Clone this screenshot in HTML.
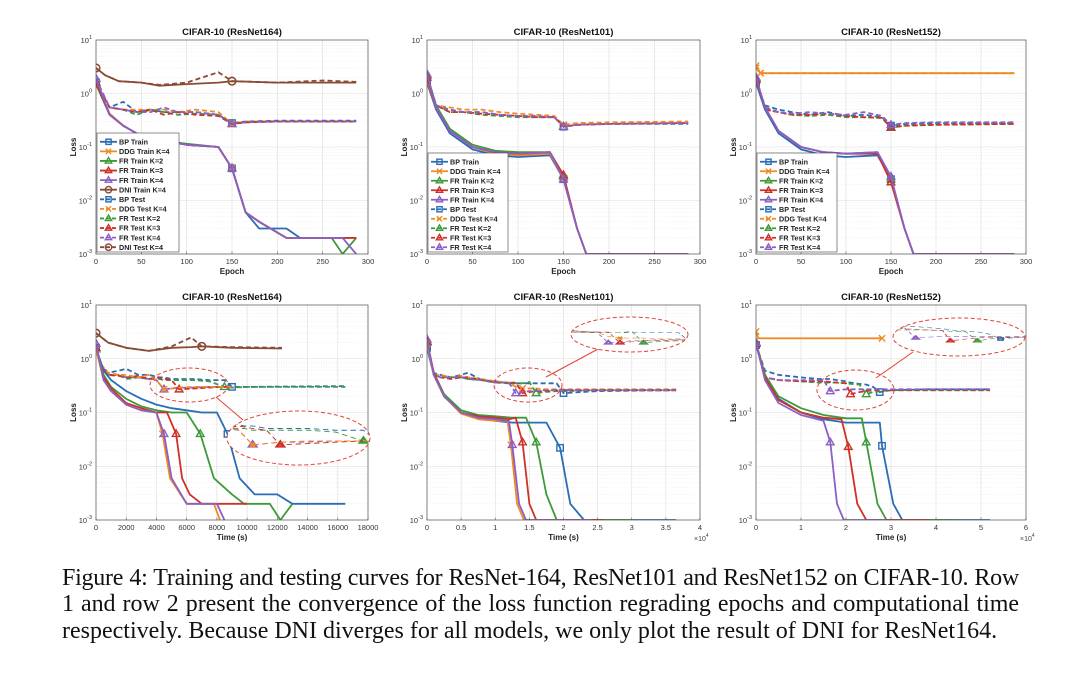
<!DOCTYPE html>
<html><head><meta charset="utf-8"><style>
html,body{margin:0;padding:0;background:#fff;}
body{width:1080px;height:674px;position:relative;overflow:hidden;font-family:"Liberation Sans",sans-serif;}
.cap{position:absolute;left:62px;width:957px;font-family:"Liberation Serif",serif;font-size:24px;line-height:26px;text-align:justify;text-align-last:justify;white-space:nowrap;color:#111;}
</style></head><body>
<svg id="fig" width="1080" height="674" xmlns="http://www.w3.org/2000/svg" style="position:absolute;left:0;top:0"></svg>
<div class="cap" style="top:565px;letter-spacing:-0.25px;word-spacing:-0.5px">Figure 4: Training and testing curves for ResNet-164, ResNet101 and ResNet152 on CIFAR-10. Row</div>
<div class="cap" style="top:591px;letter-spacing:-0.05px">1 and row 2 present the convergence of the loss function regrading epochs and computational time</div>
<div class="cap" style="top:618px;text-align-last:left;width:auto">respectively. Because DNI diverges for all models, we only plot the result of DNI for ResNet164.</div>
<script>
// ---------- DATA ----------
const ep1Train = [0,15,30,50,75,100,135,150,165,180,210,225,260,272,287];
const p1BPtr  = [1.6,0.42,0.25,0.16,0.13,0.11,0.1,0.04,0.006,0.003,0.003,0.002,0.002,0.002,0.002];
const p1DDGtr = [1.5,0.42,0.25,0.16,0.13,0.11,0.1,0.04,0.006,0.004,0.002,0.002,0.002,0.002,0.002];
const p1FR2tr = [1.5,0.4,0.25,0.16,0.13,0.115,0.1,0.04,0.006,0.004,0.002,0.002,0.002,0.001,0.002];
const p1FR3tr = [1.6,0.4,0.25,0.16,0.13,0.11,0.1,0.04,0.006,0.004,0.002,0.002,0.002,0.002,0.002];
const p1FR4tr = [1.9,0.4,0.25,0.16,0.13,0.11,0.1,0.04,0.006,0.004,0.002,0.002,0.002,0.002,0.001];
const ep1Test = [0,15,30,45,60,75,90,110,135,150,165,200,287];
const p1BPte  = [1.6,0.55,0.7,0.45,0.5,0.45,0.45,0.45,0.4,0.28,0.3,0.31,0.31];
const p1DDGte = [1.5,0.55,0.5,0.5,0.5,0.5,0.45,0.5,0.45,0.27,0.3,0.3,0.3];
const p1FR2te = [1.5,0.55,0.5,0.4,0.5,0.45,0.4,0.42,0.4,0.27,0.29,0.3,0.3];
const p1FR3te = [1.6,0.55,0.5,0.45,0.5,0.4,0.45,0.4,0.38,0.27,0.29,0.3,0.3];
const p1FR4te = [1.9,0.55,0.5,0.45,0.45,0.55,0.45,0.45,0.4,0.27,0.29,0.3,0.3];
const ep1DNI  = [0,10,25,50,70,100,135,150,200,250,287];
const p1DNItr = [3,2.2,1.7,1.6,1.4,1.5,1.6,1.7,1.6,1.6,1.6];
const p1DNIte = [3,2.2,1.7,1.6,1.45,1.6,2.5,1.7,1.6,1.75,1.65];

const ep2Train = [0,10,25,50,75,100,135,150,165,175,287];
const p2BPtr  = [1.6,0.5,0.18,0.09,0.07,0.065,0.07,0.025,0.003,0.001,0.001];
const p2DDGtr = [1.8,0.55,0.2,0.1,0.075,0.07,0.075,0.025,0.003,0.001,0.001];
const p2FR2tr = [2.2,0.6,0.22,0.11,0.085,0.08,0.08,0.028,0.003,0.001,0.001];
const p2FR3tr = [2.0,0.55,0.2,0.1,0.08,0.075,0.08,0.03,0.003,0.001,0.001];
const p2FR4tr = [2.3,0.55,0.2,0.1,0.08,0.075,0.08,0.025,0.003,0.001,0.001];
const ep2Test = [0,10,25,40,60,80,100,120,140,150,165,200,287];
const p2BPte  = [1.6,0.6,0.5,0.45,0.45,0.4,0.38,0.38,0.36,0.24,0.26,0.27,0.27];
const p2DDGte = [1.8,0.6,0.55,0.5,0.5,0.45,0.42,0.4,0.38,0.26,0.28,0.29,0.3];
const p2FR2te = [2.2,0.6,0.45,0.45,0.4,0.38,0.36,0.36,0.36,0.24,0.26,0.27,0.28];
const p2FR3te = [2.0,0.6,0.45,0.45,0.42,0.4,0.38,0.36,0.36,0.24,0.26,0.27,0.28];
const p2FR4te = [2.3,0.6,0.5,0.45,0.45,0.4,0.38,0.38,0.36,0.24,0.26,0.27,0.28];

const ep3Train = [0,10,25,50,75,100,135,150,165,175,287];
const p3BPtr  = [1.6,0.5,0.18,0.09,0.07,0.065,0.07,0.025,0.003,0.001,0.001];
const p3FR2tr = [1.9,0.55,0.2,0.1,0.08,0.075,0.08,0.025,0.003,0.001,0.001];
const p3FR3tr = [1.8,0.55,0.2,0.1,0.08,0.075,0.075,0.022,0.003,0.001,0.001];
const p3FR4tr = [2.0,0.55,0.2,0.1,0.08,0.075,0.08,0.028,0.003,0.001,0.001];
const ep3DDG  = [0,5,287];
const p3DDGtr = [3.3,2.4,2.4];
const p3DDGte = [3.0,2.4,2.4];
const ep3Test = [0,10,25,40,60,80,100,120,140,150,165,200,287];
const p3BPte  = [1.6,0.6,0.5,0.45,0.4,0.45,0.38,0.4,0.36,0.25,0.27,0.28,0.28];
const p3FR2te = [1.9,0.5,0.45,0.4,0.38,0.4,0.36,0.36,0.35,0.23,0.25,0.26,0.27];
const p3FR3te = [1.8,0.5,0.45,0.4,0.4,0.42,0.38,0.36,0.35,0.23,0.25,0.26,0.27];
const p3FR4te = [2.0,0.55,0.45,0.42,0.45,0.42,0.4,0.45,0.38,0.26,0.28,0.29,0.29];

const t1BP = [0,500,1000,2000,3000,4000,5000,6000,7000,8000,8700,9500,10500,12000,13000,16500];
const b1BPtr = [1.6,0.6,0.4,0.25,0.18,0.14,0.12,0.11,0.1,0.1,0.04,0.006,0.003,0.003,0.002,0.002];
const t1FR4 = [0,500,1000,2000,3000,4000,4500,5000,6000,8000,8500];
const b1FR4tr = [1.9,0.4,0.25,0.14,0.11,0.1,0.04,0.006,0.002,0.002,0.001];
const t1DDG = [0,500,1000,2000,3000,4000,4400,4900,6000,7800,8200];
const b1DDGtr = [1.5,0.4,0.25,0.14,0.11,0.1,0.04,0.006,0.002,0.002,0.001];
const t1FR3 = [0,500,1000,2000,3000,4000,4700,5300,5700,6200,7000,10000];
const b1FR3tr = [1.6,0.45,0.28,0.15,0.12,0.1,0.1,0.04,0.006,0.003,0.002,0.002];
const t1FR2 = [0,500,1000,2000,3000,4000,5000,6000,6900,7800,9000,9800,11500,12200,13000];
const b1FR2tr = [1.5,0.5,0.3,0.18,0.13,0.11,0.1,0.1,0.04,0.006,0.003,0.002,0.002,0.001,0.002];
const t1te = [0,300,800,1500,2000,2800,3500,4200,4500,5000,5500,6500,7500,8500,9000,10000,16500];
const b1BPte = [1.6,0.8,0.55,0.6,0.65,0.5,0.5,0.45,0.45,0.42,0.42,0.42,0.4,0.4,0.3,0.3,0.31];
const b1FR2te = [1.5,0.8,0.5,0.5,0.42,0.45,0.42,0.42,0.4,0.4,0.4,0.4,0.38,0.3,0.29,0.3,0.3];
const t1teS = [0,300,800,1500,2000,2800,3500,4000,4500,5000,5500,6500,7500,8500,9000];
const b1FR4te = [1.9,0.8,0.5,0.5,0.45,0.45,0.42,0.4,0.27,0.28,0.29,0.29,0.3,0.3,0.3];
const b1FR3te = [1.6,0.8,0.5,0.48,0.45,0.48,0.42,0.45,0.42,0.4,0.27,0.28,0.29,0.3,0.3];
const b1DDGte = [1.5,0.8,0.55,0.5,0.5,0.45,0.5,0.4,0.27,0.28,0.29,0.3,0.3,0.3,0.3];
const t1DNI = [0,800,2000,3500,5000,6300,7000,9000,12300];
const b1DNItr = [3,2,1.6,1.4,1.6,1.65,1.7,1.6,1.55];
const b1DNIte = [3,2,1.6,1.4,1.7,2.5,1.7,1.65,1.6];

const t2BP = [0,1000,2500,5000,7500,10000,12500,15000,17500,19500,21000,23000,36500];
const b2BPtr = [1.6,0.5,0.2,0.1,0.08,0.07,0.065,0.065,0.065,0.022,0.002,0.001,0.001];
const t2FR2 = [0,1000,2500,5000,7500,10000,12500,14500,16000,17500,19000,30000];
const b2FR2tr = [2.0,0.55,0.22,0.11,0.09,0.085,0.08,0.08,0.028,0.003,0.001,0.001];
const t2FR3 = [0,1000,2500,5000,7500,10000,12000,13000,14000,15000,16000,26000];
const b2FR3tr = [2.1,0.55,0.2,0.1,0.085,0.08,0.075,0.08,0.028,0.002,0.001,0.001];
const t2FR4 = [0,1000,2500,5000,7500,10000,11500,12000,12500,13500,14500,24000];
const b2FR4tr = [2.3,0.5,0.2,0.1,0.08,0.075,0.07,0.07,0.025,0.002,0.001,0.001];
const t2DDG = [0,1000,2500,5000,7500,10000,11500,11800,12300,13200,14200,24000];
const b2DDGtr = [1.9,0.5,0.2,0.095,0.075,0.07,0.07,0.07,0.025,0.002,0.001,0.001];
const t2te = [0,1000,2000,3500,5000,6000,8000,10000,12000,13000,14000,15000,16000,17000,19000,20000,25000,36500];
const b2BPte = [1.6,0.55,0.5,0.45,0.5,0.55,0.4,0.38,0.35,0.35,0.35,0.35,0.35,0.35,0.35,0.23,0.25,0.26];
const b2FR2te = [2.0,0.5,0.45,0.45,0.45,0.42,0.4,0.36,0.35,0.35,0.35,0.37,0.23,0.24,0.25,0.25,0.26,0.26];
const b2FR3te = [2.1,0.5,0.45,0.42,0.45,0.45,0.4,0.36,0.36,0.36,0.23,0.24,0.25,0.25,0.26,0.26,0.26,0.26];
const b2FR4te = [2.3,0.5,0.45,0.45,0.45,0.42,0.4,0.36,0.36,0.23,0.24,0.25,0.25,0.26,0.26,0.26,0.26,0.26];
const b2DDGte = [1.9,0.5,0.5,0.45,0.48,0.45,0.42,0.38,0.36,0.3,0.28,0.28,0.28,0.27,0.27,0.27,0.27,0.27];

const t3BP = [0,2000,5000,10000,15000,20000,25000,27500,28000,30500,32500,52000];
const b3BPtr = [1.8,0.5,0.18,0.1,0.075,0.065,0.065,0.065,0.024,0.002,0.001,0.001];
const t3FR2 = [0,2000,5000,10000,15000,20000,23500,24500,27000,29000,45000];
const b3FR2tr = [2.0,0.5,0.2,0.12,0.09,0.078,0.078,0.028,0.002,0.001,0.001];
const t3FR3 = [0,2000,5000,10000,15000,19000,20500,22500,24500,38500];
const b3FR3tr = [1.9,0.45,0.17,0.1,0.08,0.075,0.023,0.002,0.001,0.001];
const t3FR4 = [0,2000,5000,10000,15000,16500,18000,19500,29000];
const b3FR4tr = [2.0,0.4,0.15,0.09,0.07,0.028,0.002,0.001,0.001];
const t3DDG = [0,500,28000];
const b3DDGtr = [3.2,2.4,2.4];
const t3te = [0,2000,5000,10000,14000,15000,16500,18000,20000,21000,23000,24500,26000,27500,30000,38000,52000];
const b3BPte = [1.8,0.6,0.5,0.45,0.42,0.42,0.42,0.4,0.38,0.36,0.34,0.33,0.3,0.24,0.26,0.27,0.27];
const b3FR2te = [2.0,0.45,0.4,0.38,0.36,0.36,0.36,0.36,0.35,0.34,0.33,0.22,0.24,0.25,0.26,0.26,0.26];
const b3FR3te = [1.9,0.45,0.4,0.38,0.38,0.38,0.37,0.36,0.35,0.22,0.24,0.25,0.26,0.26,0.26,0.26,0.26];
const b3FR4te = [2.0,0.45,0.4,0.4,0.4,0.4,0.25,0.26,0.27,0.27,0.27,0.27,0.27,0.27,0.27,0.27,0.27];

const topTicks = [0,50,100,150,200,250,300];
const b1Ticks = [0,2000,4000,6000,8000,10000,12000,14000,16000,18000];
const b2Ticks = [0,5000,10000,15000,20000,25000,30000,35000,40000];
const b2Labels = ["0","0.5","1","1.5","2","2.5","3","3.5","4"];
const b3Ticks = [0,10000,20000,30000,40000,50000,60000];
const b3Labels = ["0","1","2","3","4","5","6"];

// ---------- DRAW ----------
const C = {bp:"#2a6db5", ddg:"#f08a24", fr2:"#3d9b3a", fr3:"#cf3027", fr4:"#8b5fc6", dni:"#8a4b35"};
const NS = "http://www.w3.org/2000/svg";
const svg = document.getElementById('fig');
function el(tag, attrs, parent){ const e=document.createElementNS(NS,tag); for(const k in attrs) e.setAttribute(k,attrs[k]); (parent||svg).appendChild(e); return e; }

function S(col, dash, mk, xs, ys, mi, name){ return {col,dash,mk,xs,ys,mi,name}; }

const panels = [
 {name:"top-left", x0:96,y0:40,w:272,h:214,xmax:300,ticks:topTicks,labels:topTicks.map(String),title:"CIFAR-10 (ResNet164)",xlabel:"Epoch",
  series:[S(C.dni,"", "o",ep1DNI,p1DNItr,7,"dni-train"),S(C.dni,"5,3","o",ep1DNI,p1DNIte,7,"dni-test"),
   S(C.bp,"5,3","s",ep1Test,p1BPte,9,"bp-test"),S(C.ddg,"5,3","x",ep1Test,p1DDGte,9,"ddg-test"),S(C.fr2,"5,3","^",ep1Test,p1FR2te,9,"fr2-test"),S(C.fr3,"5,3","^",ep1Test,p1FR3te,9,"fr3-test"),S(C.fr4,"5,3","^",ep1Test,p1FR4te,9,"fr4-test"),
   S(C.bp,"","s",ep1Train,p1BPtr,7,"bp-train"),S(C.ddg,"","x",ep1Train,p1DDGtr,7,"ddg-train"),S(C.fr2,"","^",ep1Train,p1FR2tr,7,"fr2-train"),S(C.fr3,"","^",ep1Train,p1FR3tr,7,"fr3-train"),S(C.fr4,"","^",ep1Train,p1FR4tr,7,"fr4-train")],
  legend:{x:97,y:133,w:82,h:119,dni:true}},
 {name:"top-middle", x0:427,y0:40,w:273,h:214,xmax:300,ticks:topTicks,labels:topTicks.map(String),title:"CIFAR-10 (ResNet101)",xlabel:"Epoch",
  series:[S(C.bp,"5,3","s",ep2Test,p2BPte,9,"bp-test"),S(C.ddg,"5,3","x",ep2Test,p2DDGte,9,"ddg-test"),S(C.fr2,"5,3","^",ep2Test,p2FR2te,9,"fr2-test"),S(C.fr3,"5,3","^",ep2Test,p2FR3te,9,"fr3-test"),S(C.fr4,"5,3","^",ep2Test,p2FR4te,9,"fr4-test"),
   S(C.bp,"","s",ep2Train,p2BPtr,7,"bp-train"),S(C.ddg,"","x",ep2Train,p2DDGtr,7,"ddg-train"),S(C.fr2,"","^",ep2Train,p2FR2tr,7,"fr2-train"),S(C.fr3,"","^",ep2Train,p2FR3tr,7,"fr3-train"),S(C.fr4,"","^",ep2Train,p2FR4tr,7,"fr4-train")],
  legend:{x:428,y:153,w:80,h:99,dni:false}},
 {name:"top-right", x0:756,y0:40,w:270,h:214,xmax:300,ticks:topTicks,labels:topTicks.map(String),title:"CIFAR-10 (ResNet152)",xlabel:"Epoch",
  series:[S(C.ddg,"","x",ep3DDG,p3DDGtr,1,"ddg-train"),S(C.ddg,"5,3","x",ep3DDG,p3DDGte,1,"ddg-test"),
   S(C.bp,"5,3","s",ep3Test,p3BPte,9,"bp-test"),S(C.fr2,"5,3","^",ep3Test,p3FR2te,9,"fr2-test"),S(C.fr3,"5,3","^",ep3Test,p3FR3te,9,"fr3-test"),S(C.fr4,"5,3","^",ep3Test,p3FR4te,9,"fr4-test"),
   S(C.bp,"","s",ep3Train,p3BPtr,7,"bp-train"),S(C.fr2,"","^",ep3Train,p3FR2tr,7,"fr2-train"),S(C.fr3,"","^",ep3Train,p3FR3tr,7,"fr3-train"),S(C.fr4,"","^",ep3Train,p3FR4tr,7,"fr4-train")],
  legend:{x:757,y:153,w:80,h:99,dni:false}},
 {name:"bottom-left", x0:96,y0:305,w:272,h:215,xmax:18000,ticks:b1Ticks,labels:b1Ticks.map(String),title:"CIFAR-10 (ResNet164)",xlabel:"Time (s)",
  series:[S(C.dni,"","o",t1DNI,b1DNItr,6,"dni-train"),S(C.dni,"5,3","o",t1DNI,b1DNIte,6,"dni-test"),
   S(C.bp,"5,3","s",t1te,b1BPte,14,"bp-test"),S(C.fr2,"5,3","^",t1te,b1FR2te,13,"fr2-test"),S(C.fr4,"5,3","^",t1teS,b1FR4te,8,"fr4-test"),S(C.fr3,"5,3","^",t1teS,b1FR3te,10,"fr3-test"),S(C.ddg,"5,3","x",t1teS,b1DDGte,8,"ddg-test"),
   S(C.bp,"","s",t1BP,b1BPtr,10,"bp-train"),S(C.fr2,"","^",t1FR2,b1FR2tr,8,"fr2-train"),S(C.fr3,"","^",t1FR3,b1FR3tr,7,"fr3-train"),S(C.ddg,"","x",t1DDG,b1DDGtr,6,"ddg-train"),S(C.fr4,"","^",t1FR4,b1FR4tr,6,"fr4-train")],
  zoom:{src:[150,368,228,402],dst:[227,411,370,465],line:[216,397,243,420]}},
 {name:"bottom-middle", x0:427,y0:305,w:273,h:215,xmax:40000,ticks:b2Ticks,labels:b2Labels,title:"CIFAR-10 (ResNet101)",xlabel:"Time (s)",exp:true,
  series:[S(C.bp,"5,3","s",t2te,b2BPte,15,"bp-test"),S(C.ddg,"5,3","x",t2te,b2DDGte,10,"ddg-test"),S(C.fr2,"5,3","^",t2te,b2FR2te,12,"fr2-test"),S(C.fr3,"5,3","^",t2te,b2FR3te,10,"fr3-test"),S(C.fr4,"5,3","^",t2te,b2FR4te,9,"fr4-test"),
   S(C.bp,"","s",t2BP,b2BPtr,9,"bp-train"),S(C.fr2,"","^",t2FR2,b2FR2tr,8,"fr2-train"),S(C.fr3,"","^",t2FR3,b2FR3tr,8,"fr3-train"),S(C.ddg,"","x",t2DDG,b2DDGtr,8,"ddg-train"),S(C.fr4,"","^",t2FR4,b2FR4tr,8,"fr4-train")],
  zoom:{src:[494,368,562,402],dst:[571,317,688,352],line:[546,377,600,348]}},
 {name:"bottom-right", x0:756,y0:305,w:270,h:215,xmax:60000,ticks:b3Ticks,labels:b3Labels,title:"CIFAR-10 (ResNet152)",xlabel:"Time (s)",exp:true,
  series:[S(C.ddg,"","x",t3DDG,b3DDGtr,2,"ddg-train"),
   S(C.bp,"5,3","s",t3te,b3BPte,13,"bp-test"),S(C.fr2,"5,3","^",t3te,b3FR2te,11,"fr2-test"),S(C.fr3,"5,3","^",t3te,b3FR3te,9,"fr3-test"),S(C.fr4,"5,3","^",t3te,b3FR4te,6,"fr4-test"),
   S(C.bp,"","s",t3BP,b3BPtr,8,"bp-train"),S(C.fr2,"","^",t3FR2,b3FR2tr,7,"fr2-train"),S(C.fr3,"","^",t3FR3,b3FR3tr,6,"fr3-train"),S(C.fr4,"","^",t3FR4,b3FR4tr,5,"fr4-train")],
  zoom:{src:[817,370,894,410],dst:[893,318,1025,356],line:[876,378,913,352]}}
];

function marker(g, type, x, y, col, r){
  r = r||3.2;
  let m;
  if(type==="s") m=el('rect',{x:x-r,y:y-r,width:2*r,height:2*r,fill:"none",stroke:col,"stroke-width":1.4},g);
  else if(type==="o") m=el('circle',{cx:x,cy:y,r:r+0.6,fill:"none",stroke:col,"stroke-width":1.4},g);
  else if(type==="^") m=el('polygon',{points:`${x},${y-r-0.8} ${x-r-0.6},${y+r*0.8} ${x+r+0.6},${y+r*0.8}`,fill:"none",stroke:col,"stroke-width":1.4},g);
  else m=el('path',{d:`M${x-r} ${y-r}L${x+r} ${y+r}M${x-r} ${y+r}L${x+r} ${y-r}`,stroke:col,"stroke-width":1.4},g);
  
  
}

let pid=0;
function drawPanel(p){
  pid++;
  const g = el('g',{});
  
  
  const xs = v => p.x0 + v/p.xmax*p.w;
  const ys = v => p.y0 + (1 - Math.log10(v))/4*p.h;
  for(let d=-3; d<1; d++) for(let k=2;k<10;k++){
    const yy = ys(k*Math.pow(10,d));
    el('line',{x1:p.x0,x2:p.x0+p.w,y1:yy,y2:yy,stroke:"#e4e4e4","stroke-width":0.5,"stroke-dasharray":"1,1.5"},g);
  }
  for(let d=-3; d<=1; d++){ const yy=ys(Math.pow(10,d)); el('line',{x1:p.x0,x2:p.x0+p.w,y1:yy,y2:yy,stroke:"#dcdcdc","stroke-width":0.6},g); }
  p.ticks.forEach(t=>{ const xx=xs(t); el('line',{x1:xx,x2:xx,y1:p.y0,y2:p.y0+p.h,stroke:"#dcdcdc","stroke-width":0.6},g); });
  const cid='clip'+pid;
  const cp = el('clipPath',{id:cid},g); el('rect',{x:p.x0,y:p.y0-6,width:p.w,height:p.h+6},cp);
  const body = el('g',{"clip-path":`url(#${cid})`},g);
  function drawSeries(parent, sw, ms){
    p.series.forEach(s=>{
      const pts = s.xs.map((x,i)=>`${xs(x).toFixed(1)},${ys(s.ys[i]).toFixed(1)}`).join(' ');
      const pl = el('polyline',{points:pts,fill:"none",stroke:s.col,"stroke-width":sw,"stroke-linejoin":"round","stroke-dasharray":s.dash?(sw<1.5?"3,2":s.dash):"none"},parent);
      
      
      marker(parent, s.mk, xs(s.xs[0]), ys(s.ys[0]), s.col, ms);
      if(s.mi!=null && s.mi<s.xs.length) marker(parent, s.mk, xs(s.xs[s.mi]), ys(s.ys[s.mi]), s.col, ms);
    });
  }
  drawSeries(body, 1.8, 3.2);
  el('rect',{x:p.x0,y:p.y0,width:p.w,height:p.h,fill:"none",stroke:"#555","stroke-width":0.7},g);
  p.ticks.forEach((t,i)=>{
    const xx=xs(t);
    el('line',{x1:xx,x2:xx,y1:p.y0+p.h,y2:p.y0+p.h-2.5,stroke:"#555","stroke-width":0.6},g);
    const tx=el('text',{x:xx,y:p.y0+p.h+10,"font-size":7.5,"text-anchor":"middle",fill:"#333"},g);
    tx.textContent=p.labels[i];
    
    
  });
  for(let d=-3; d<=1; d++){
    const yy=ys(Math.pow(10,d));
    const tx=el('text',{x:p.x0-4,y:yy+3,"font-size":7.5,"text-anchor":"end",fill:"#333"},g);
    tx.innerHTML=`10<tspan dy="-4" font-size="5.5">${d}</tspan>`;
    
    
  }
  if(p.exp){
    const tx=el('text',{x:p.x0+p.w-6,y:p.y0+p.h+21,"font-size":7,fill:"#444"},g);
    tx.innerHTML=`×10<tspan dy="-4" font-size="5">4</tspan>`;
    
    
  }
  const tt=el('text',{x:p.x0+p.w/2,y:p.y0-5,"font-size":9.5,"font-weight":"bold","text-anchor":"middle",fill:"#111"},g);
  tt.textContent=p.title;
  
  
  const xl=el('text',{x:p.x0+p.w/2,y:p.y0+p.h+20,"font-size":8,"font-weight":"bold","text-anchor":"middle",fill:"#222"},g);
  xl.textContent=p.xlabel;
  
  
  const yl=el('text',{x:0,y:0,"font-size":8,"font-weight":"bold","text-anchor":"middle",fill:"#222",transform:`translate(${p.x0-20},${p.y0+p.h/2}) rotate(-90)`},g);
  yl.textContent="Loss";
  
  
  if(p.zoom){
    const z=p.zoom, s=z.src, d=z.dst;
    const se=el('ellipse',{cx:(s[0]+s[2])/2,cy:(s[1]+s[3])/2,rx:(s[2]-s[0])/2,ry:(s[3]-s[1])/2,fill:"none",stroke:"#e0443a","stroke-width":1,"stroke-dasharray":"4,2.5"},g);
    
    
    const ln=el('line',{x1:z.line[0],y1:z.line[1],x2:z.line[2],y2:z.line[3],stroke:"#e0443a","stroke-width":1},g);
    
    
    const icid='iclip'+pid;
    const icp=el('clipPath',{id:icid},g);
    el('ellipse',{cx:(d[0]+d[2])/2,cy:(d[1]+d[3])/2,rx:(d[2]-d[0])/2,ry:(d[3]-d[1])/2},icp);
    el('ellipse',{cx:(d[0]+d[2])/2,cy:(d[1]+d[3])/2,rx:(d[2]-d[0])/2,ry:(d[3]-d[1])/2,fill:"#fff",stroke:"none"},g);
    const ig=el('g',{"clip-path":`url(#${icid})`},g);
    
    
    const sx=(d[2]-d[0])/(s[2]-s[0]), sy=(d[3]-d[1])/(s[3]-s[1]);
    const inner=el('g',{transform:`translate(${d[0]},${d[1]}) scale(${sx},${sy}) translate(${-s[0]},${-s[1]})`},ig);
    const saved=p.series; p.series=saved.filter(x=>x.dash); drawSeries(inner,0.6,1.3); p.series=saved;
    const de=el('ellipse',{cx:(d[0]+d[2])/2,cy:(d[1]+d[3])/2,rx:(d[2]-d[0])/2,ry:(d[3]-d[1])/2,fill:"none",stroke:"#e0443a","stroke-width":1,"stroke-dasharray":"4,2.5"},g);
    
    
  }
  if(p.legend){
    const L=p.legend;
    const lg=el('g',{},g);
    
    
    el('rect',{x:L.x,y:L.y,width:L.w,height:L.h,fill:"#fff",stroke:"#444","stroke-width":0.6},lg);
    const ent=[["BP Train",C.bp,"","s"],["DDG Train K=4",C.ddg,"","x"],["FR Train K=2",C.fr2,"","^"],["FR Train K=3",C.fr3,"","^"],["FR Train K=4",C.fr4,"","^"]];
    if(L.dni) ent.push(["DNI Train K=4",C.dni,"","o"]);
    ent.push(["BP Test",C.bp,"d","s"],["DDG Test K=4",C.ddg,"d","x"],["FR Test K=2",C.fr2,"d","^"],["FR Test K=3",C.fr3,"d","^"],["FR Test K=4",C.fr4,"d","^"]);
    if(L.dni) ent.push(["DNI Test K=4",C.dni,"d","o"]);
    const step=(L.h-4)/ent.length;
    ent.forEach((e,i)=>{
      const yy=L.y+4+step*(i+0.5);
      const eg=el('g',{},lg);
      
      
      el('line',{x1:L.x+3,x2:L.x+20,y1:yy,y2:yy,stroke:e[1],"stroke-width":1.8,"stroke-dasharray":e[2]?"4,2":"none"},eg);
      marker(eg,e[3],L.x+11.5,yy,e[1],2.6);
      const tx=el('text',{x:L.x+22,y:yy+2.7,"font-size":7.2,"font-weight":"bold",fill:"#222"},eg);
      tx.textContent=e[0];
    });
  }
}
panels.forEach(drawPanel);
</script>
</body></html>
